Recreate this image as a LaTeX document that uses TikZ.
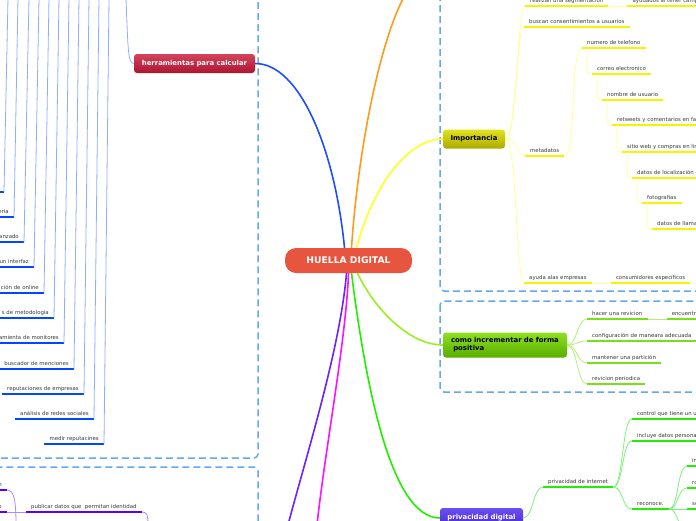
\documentclass[tikz,border=0pt]{standalone}
\usepackage{fontspec}
\setmainfont{DejaVu Sans}
\usetikzlibrary{positioning}
\definecolor{rootred}{HTML}{E8553E}
\definecolor{groupblue}{HTML}{64A8EE}
\definecolor{leaftext}{HTML}{3A3A3A}
\definecolor{hblue}{HTML}{1E4CFF}
\definecolor{lblue}{HTML}{8FAEFF}
\definecolor{ublue}{HTML}{0048FF}
\definecolor{horange}{HTML}{FF9A1A}
\definecolor{hyellow}{HTML}{FFFF22}
\definecolor{lyellow}{HTML}{FFFF99}
\definecolor{uyellow}{HTML}{F4F400}
\definecolor{hlime}{HTML}{99F022}
\definecolor{llime}{HTML}{B4F07A}
\definecolor{ulime}{HTML}{77E01A}
\definecolor{hgreen}{HTML}{22EE00}
\definecolor{lgreen}{HTML}{7DF07D}
\definecolor{hpurple}{HTML}{6A22FF}
\definecolor{lpurple}{HTML}{A98CFF}
\definecolor{upurple}{HTML}{5A00FF}
\definecolor{hmagenta}{HTML}{FF11FF}
\definecolor{herrtop}{HTML}{D4435C}
\definecolor{herrbot}{HTML}{AE1530}
\definecolor{imptop}{HTML}{E2E21E}
\definecolor{impbot}{HTML}{ABAB00}
\definecolor{comotop}{HTML}{8FE022}
\definecolor{comobot}{HTML}{58AE00}
\definecolor{privtop}{HTML}{6B4FF2}
\definecolor{privbot}{HTML}{4526D6}
\newcommand{\leaffont}{\fontsize{5.4}{6.5}\selectfont}
\newcommand{\topicfont}{\fontsize{6.9}{8}\selectfont\bfseries}
\newcommand{\rootfont}{\fontsize{9.2}{10}\selectfont\bfseries}

\begin{document}
\begin{tikzpicture}[x=1pt,y=-1pt,
    leaf/.style={inner xsep=5pt,inner ysep=2pt,text height=4pt,text depth=1.2pt,font=\leaffont,text=leaftext,
      append after command={(\tikzlastnode.south west) edge[draw=#1,line width=2pt] (\tikzlastnode.south east)}},
    rleaf/.style={leaf=#1,anchor=south west},
    lleaf/.style={leaf=#1,anchor=south east},
    cut/.style={text width=#1,align=right},
    topic/.style n args={3}{rounded corners=3pt,top color=#1,bottom color=#2,text=#3,font=\topicfont,minimum height=19pt,inner sep=0pt},
    root/.style={fill=rootred,rounded corners=11pt,minimum width=127pt,minimum height=25pt,text=white,font=\rootfont},
    link/.style={draw=#1,line width=0.8pt},
    branch/.style={draw=#1,line width=1.6pt},
    group/.style={draw=groupblue,line width=1.5pt,dash pattern=on 7pt off 4pt,rounded corners=4pt}
  ]
  \useasboundingbox (0,0) rectangle (696,520);
  \clip (0,0) rectangle (696,520);
  % dashed groups
  \draw[group] (-10,-10) rectangle (258,458);
  \draw[group] (-10,467) rectangle (258,540);
  \draw[group] (440,-10) rectangle (706,291);
  \draw[group] (440,301) rectangle (706,392);
  % main topics
  \node[root] (hd) at (348.5,260.5) {HUELLA DIGITAL};
  \node[topic={herrtop}{herrbot}{white},minimum width=121pt] (herr) at (194.5,63.5) {herramientas para calcular};
  \node[topic={imptop}{impbot}{black},minimum width=62pt] (imp) at (474,139) {Importancia};
  \node[topic={comotop}{comobot}{black},minimum height=25pt,text width=108pt,inner xsep=8pt,align=left] (como) at (505,345) {como incrementar de forma\\~positiva};
  \node[topic={privtop}{privbot}{white},minimum width=83pt,minimum height=20pt] (priv) at (481.5,518) {privacidad digital};
  % herramientas
  \node[lleaf=ublue,cut=60pt] (b1) at (4,192) {};
  \node[lleaf=ublue,cut=60pt] (b2) at (14,217) {eria};
  \node[lleaf=ublue,cut=60pt] (b3) at (24,242) {anzado};
  \node[lleaf=ublue,cut=60pt] (b4) at (34,267) {un interfaz};
  \node[lleaf=ublue,cut=70pt] (b5) at (44,293) {ción de online};
  \node[lleaf=ublue,cut=70pt] (b6) at (54,318) {s de metodologia};
  \node[lleaf=ublue,cut=70pt] (b7) at (64,343) {amienta de monitores};
  \node[lleaf=ublue] (b8) at (74,369) {buscador de menciones};
  \node[lleaf=ublue] (b9) at (84,394) {reputaciones de empresas};
  \node[lleaf=ublue] (b10) at (94,419) {análisis de redes sociales};
  \node[lleaf=ublue] (b11) at (104,444) {medir reputacines};
  % importancia
  \node[rleaf=uyellow] (y1) at (525,6) {realizan una segmentación};
  \node[rleaf=uyellow,right=19pt of y1.south east,anchor=south west] (y1b) {ayudados al tener campañas};
  \node[rleaf=uyellow] (y2) at (524,27) {buscan consentimientos a usuarios};
  \node[rleaf=uyellow] (y3) at (525,156) {metadatos};
  \node[rleaf=uyellow] (y4) at (524,283) {ayuda alas empresas};
  \node[rleaf=uyellow,right=19pt of y4.south east,anchor=south west] (y4b) {consumidores específicos};
  \node[rleaf=uyellow] (m1) at (582,48) {numero de telefono};
  \node[rleaf=uyellow] (m2) at (592,74) {correo electronico};
  \node[rleaf=uyellow] (m3) at (602,100) {nombre de usuario};
  \node[rleaf=uyellow] (m4) at (612,125) {retweets y comentarios en facebook};
  \node[rleaf=uyellow] (m5) at (622,152) {sitio web y compras en linea};
  \node[rleaf=uyellow] (m6) at (632,178) {datos de localización gps};
  \node[rleaf=uyellow] (m7) at (642,203) {fotografias};
  \node[rleaf=uyellow] (m8) at (652,229) {datos de llamadas};
  % como incrementar
  \node[rleaf=ulime] (c1) at (587,319) {hacer una revicion};
  \node[rleaf=ulime,right=19pt of c1.south east,anchor=south west] (c1b) {encuentra};
  \node[rleaf=ulime] (c2) at (587,341) {configuración de maneara adecuada};
  \node[rleaf=ulime] (c3) at (587,363) {mantener una partición};
  \node[rleaf=ulime] (c4) at (587,384) {revicion periodica};
  % privacidad
  \node[rleaf=hgreen] (p1) at (543,487) {privacidad de internet};
  \node[rleaf=hgreen] (q1) at (632,419) {control que tiene un usuario};
  \node[rleaf=hgreen] (q2) at (632,441) {incluye datos personales};
  \node[rleaf=hgreen] (q3) at (632,509) {reconoce.};
  \node[rleaf=hgreen] (r1) at (687,466) {informacion};
  \node[rleaf=hgreen] (r2) at (687,488) {robo};
  \node[rleaf=hgreen] (r3) at (687,509) {sociales};
  % bottom left
  \node[lleaf=upurple,cut=60pt] (u1) at (7,490) {n};
  \node[lleaf=upurple,cut=60pt] (u2) at (7,512) {o};
  \node[rleaf=upurple,right=19pt of u2.south east,anchor=south west] (pub) {publicar datos que \ permitan identidad};
  % loose ends
  \coordinate (up) at (405,-5);
  \coordinate (dn1) at (288,525);
  \coordinate (dn2) at (317,525);
  \coordinate (dn3) at (16,525);
  \coordinate (dn4) at (148,525);
  \coordinate (r4) at (687,530);
  \coordinate (t0) at (126,-2);
  % main branches
  \draw[branch=hblue] ([xshift=-4pt]hd.north) .. controls (335,150) and (300,63.5) .. (herr.east);
  \draw[branch=horange] ([xshift=3pt]hd.north) .. controls (358,150) and (380,40) .. (up);
  \draw[branch=hyellow] ([xshift=8pt]hd.north) .. controls (375,180) and (410,139) .. (imp.west);
  \draw[branch=hlime] ([xshift=9pt]hd.south) .. controls (375,310) and (410,345) .. (como.west);
  \draw[branch=hgreen] ([xshift=3pt]hd.south) .. controls (365,380) and (390,518) .. (priv.west);
  \draw[branch=hpurple] ([xshift=-2pt]hd.south) .. controls (340,350) and (305,460) .. (dn1);
  \draw[branch=hmagenta] (hd.south) .. controls (346,340) and (325,450) .. (dn2);
  % links
  \draw[link=lblue] (t0) .. controls (128,50) and (128,63.5) .. (herr.west);
  \foreach \i/\x in {1/8,2/18,3/29,4/39,5/49,6/59,7/69,8/79,9/89,10/99,11/109} {
    \coordinate (t\i) at (\x,-2);
    \draw[link=lblue] (t\i) -- (b\i.south east);
  }
  \foreach \n in {y1,y2,y3,y4}
    \draw[link=lyellow] (imp.east) .. controls +(12,0) and +(-8,0) .. (\n.south west);
  \draw[link=lyellow] (y1.south east) -- (y1b.south west);
  \draw[link=lyellow] (y4.south east) -- (y4b.south west);
  \draw[link=lyellow] (y3.south east) .. controls +(12,0) and +(-12,0) .. (m1.south west);
  \foreach \a/\b in {m1/m2,m2/m3,m3/m4,m4/m5,m5/m6,m6/m7,m7/m8}
    \draw[link=lyellow,rounded corners=4pt] ([xshift=5pt]\a.south west) |- (\b.south west);
  \foreach \n in {c1,c2,c3,c4}
    \draw[link=llime] (como.east) .. controls +(10,0) and +(-10,0) .. (\n.south west);
  \draw[link=llime] (c1.south east) -- (c1b.south west);
  \draw[link=lgreen] (priv.east) .. controls +(10,0) and +(-10,0) .. (p1.south west);
  \foreach \n in {q1,q2,q3}
    \draw[link=lgreen] (p1.south east) .. controls +(10,0) and +(-10,0) .. (\n.south west);
  \foreach \n in {r1,r2,r3}
    \draw[link=lgreen] (q3.south east) .. controls +(10,0) and +(-10,0) .. (\n.south west);
  \draw[link=lgreen] (q3.south east) .. controls +(10,0) and +(-10,0) .. (r4);
  \draw[link=lpurple] (u1.south east) .. controls (14,490) and (16,500) .. (dn3);
  \draw[link=lpurple] (u2.south east) -- (pub.south west);
  \draw[link=lpurple] (pub.south east) .. controls (147,512) and (148,515) .. (dn4);
\end{tikzpicture}
\end{document}
